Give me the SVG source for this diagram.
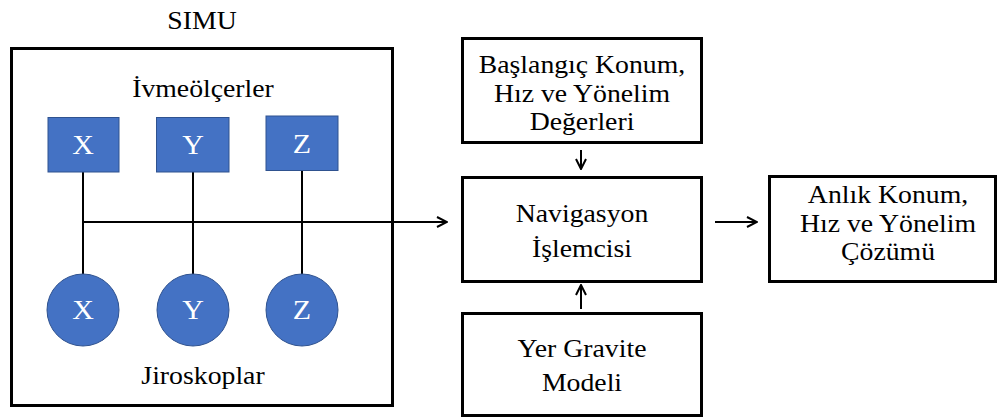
<svg xmlns="http://www.w3.org/2000/svg" width="999" height="418" viewBox="0 0 999 418">
  <style>
    .box { fill: #ffffff; stroke: #000000; stroke-width: 3; }
    .sensor { fill: #4472C4; stroke: #2F528F; stroke-width: 1; }
    .wire { fill: none; stroke: #000000; stroke-width: 2; }
    text { font-family: 'Liberation Serif', Tinos, 'Times New Roman', Times, serif; }
    .lbl { font-size: 25px; fill: #000000; text-anchor: middle; }
    .axis { font-size: 27px; fill: #ffffff; text-anchor: middle; }
  </style>
  <defs>
    <marker id="chev" viewBox="0 0 12 12" refX="11" refY="6" markerWidth="12" markerHeight="12" markerUnits="userSpaceOnUse" orient="auto">
      <path d="M1,1 L11,6 L1,11" fill="none" stroke="#000000" stroke-width="2"/>
    </marker>
  </defs>

  <!-- SIMU title -->
  <text class="lbl" font-family="Liberation Serif" transform="translate(202,29) scale(1.11,1)">SIMU</text>

  <!-- SIMU enclosure -->
  <g id="simu">
    <rect class="box" x="11.5" y="48.5" width="381" height="357"/>
    <text class="lbl" transform="translate(203,97) scale(1.11,1)">İvmeölçerler</text>
    <text class="lbl" transform="translate(203,384) scale(1.11,1)">Jiroskoplar</text>
  </g>

  <!-- connectors -->
  <g id="connectors">
    <line class="wire" x1="83" y1="172" x2="83" y2="274"/>
    <line class="wire" x1="193" y1="172" x2="193" y2="274"/>
    <line class="wire" x1="302" y1="171" x2="302" y2="274"/>
    <line class="wire" x1="83" y1="222" x2="447" y2="222" marker-end="url(#chev)"/>
    <line class="wire" x1="581" y1="150" x2="581" y2="169" marker-end="url(#chev)"/>
    <line class="wire" x1="581" y1="309" x2="581" y2="285" marker-end="url(#chev)"/>
    <line class="wire" x1="715" y1="222" x2="757" y2="222" marker-end="url(#chev)"/>
  </g>

  <!-- accelerometers -->
  <g id="acc-x">
    <rect class="sensor" x="48" y="117.5" width="71" height="54.5"/>
    <text class="axis" transform="translate(83,154) scale(1.11,1)">X</text>
  </g>
  <g id="acc-y">
    <rect class="sensor" x="156.5" y="117.5" width="72.5" height="54.5"/>
    <text class="axis" transform="translate(193,154) scale(1.11,1)">Y</text>
  </g>
  <g id="acc-z">
    <rect class="sensor" x="266" y="116" width="72" height="54.5"/>
    <text class="axis" transform="translate(302,153) scale(1.11,1)">Z</text>
  </g>

  <!-- gyroscopes -->
  <g id="gyro-x">
    <circle class="sensor" cx="83" cy="310" r="36"/>
    <text class="axis" transform="translate(83,319) scale(1.11,1)">X</text>
  </g>
  <g id="gyro-y">
    <circle class="sensor" cx="193" cy="310" r="36"/>
    <text class="axis" transform="translate(193,319) scale(1.11,1)">Y</text>
  </g>
  <g id="gyro-z">
    <circle class="sensor" cx="302" cy="310" r="36"/>
    <text class="axis" transform="translate(302,319) scale(1.11,1)">Z</text>
  </g>

  <!-- initial values -->
  <g id="initial">
    <rect class="box" x="462.5" y="38.5" width="239" height="104"/>
    <text class="lbl" transform="translate(582,73) scale(1.11,1)">Başlangıç Konum,</text>
    <text class="lbl" transform="translate(582,102) scale(1.11,1)">Hız ve Yönelim</text>
    <text class="lbl" transform="translate(582,130) scale(1.11,1)">Değerleri</text>
  </g>

  <!-- navigation processor -->
  <g id="processor">
    <rect class="box" x="462.5" y="177.5" width="239" height="104"/>
    <text class="lbl" transform="translate(582,222) scale(1.11,1)">Navigasyon</text>
    <text class="lbl" transform="translate(582,257) scale(1.11,1)">İşlemcisi</text>
  </g>

  <!-- gravity model -->
  <g id="gravity">
    <rect class="box" x="462.5" y="313.5" width="239" height="102"/>
    <text class="lbl" transform="translate(582,357) scale(1.11,1)">Yer Gravite</text>
    <text class="lbl" transform="translate(582,391) scale(1.11,1)">Modeli</text>
  </g>

  <!-- solution output -->
  <g id="solution">
    <rect class="box" x="769.5" y="176.5" width="226" height="105"/>
    <text class="lbl" transform="translate(888,203) scale(1.11,1)">Anlık Konum,</text>
    <text class="lbl" transform="translate(888,232) scale(1.11,1)">Hız ve Yönelim</text>
    <text class="lbl" transform="translate(888,260) scale(1.11,1)">Çözümü</text>
  </g>
</svg>
